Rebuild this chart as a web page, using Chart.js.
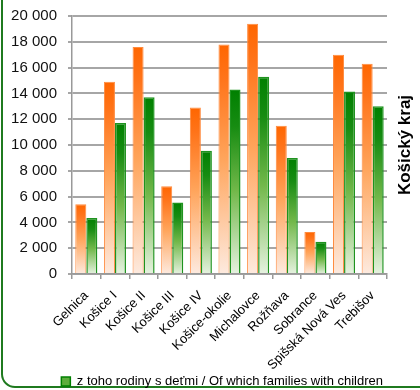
<!DOCTYPE html>
<html>
<head>
<meta charset="utf-8">
<script src="https://cdn.jsdelivr.net/npm/chart.js@4"></script>
<style>
  html, body { margin: 0; padding: 0; background: #fff; }
  #wrap { position: relative; width: 420px; height: 390px; overflow: hidden; }
  #frame {
    position: absolute; left: 1px; top: -20px; width: 520px; height: 408px;
    border: 2px solid #1f7a1f; border-radius: 14px; box-sizing: border-box;
  }
  canvas { position: absolute; left: 0; top: 0; }
</style>
</head>
<body>
<div id="wrap">
  <div id="frame"></div>
  <canvas id="chart" width="420" height="398"></canvas>
</div>
<script>
// okresy Košického kraja
const districts = ["Gelnica", "Košice I", "Košice II", "Košice III", "Košice IV", "Košice-okolie",
  "Michalovce", "Rožňava", "Sobrance", "Spišská Nová Ves", "Trebišov"];

// domácnosti spolu (oranžové stĺpce)
const households = [5400, 14900, 17600, 6800, 12900, 17800, 19400, 11500, 3250, 17000, 16300];

// z toho rodiny s deťmi (zelené stĺpce)
const families = [4350, 11700, 13700, 5550, 9550, 14300, 15300, 9000, 2500, 14150, 13000];

const yTicks = [0, 2000, 4000, 6000, 8000, 10000, 12000, 14000, 16000, 18000, 20000];

const regionTitle = "Košický kraj";
const householdsLabel = "Domácnosti spolu / Households total";
const familiesLabel = "z toho rodiny s deťmi / Of which families with children";

const FONT = '"Liberation Sans", Arial, sans-serif';

// gradient per bar: from the bar top down to the baseline
function barFill(stops, fallback) {
  return (c) => {
    const chart = c.chart;
    if (!chart.chartArea || c.type !== "data") return fallback;
    const y = chart.scales.y;
    const top = y.getPixelForValue(c.raw);
    const bottom = y.getPixelForValue(0);
    if (!isFinite(top) || !isFinite(bottom) || bottom - top < 1) return fallback;
    const g = chart.ctx.createLinearGradient(0, top, 0, bottom);
    stops.forEach(([p, col]) => g.addColorStop(p, col));
    return g;
  };
}

const orangeStops = [[0, "#ff6600"], [0.15, "#ff741a"], [0.5, "#ffa55c"], [1, "#fdeadf"]];
const greenStops  = [[0, "#008000"], [0.2, "#178c12"], [0.55, "#72b84a"], [1, "#e6f2e0"]];

// vertical region name on the right side
const sideTitle = {
  id: "sideTitle",
  afterDraw(chart) {
    const a = chart.chartArea;
    const c = chart.ctx;
    c.save();
    c.translate(chart.width - 15, (a.top + a.bottom) / 2);
    c.rotate(-Math.PI / 2);
    c.font = "bold 17px " + FONT;
    c.fillStyle = "#000";
    c.textAlign = "center";
    c.textBaseline = "middle";
    c.fillText(regionTitle, 0, 0);
    c.restore();
  }
};

const fmt = (v) => String(v).replace(/\B(?=(\d{3})+(?!\d))/g, " ");

new Chart(document.getElementById("chart"), {
  type: "bar",
  data: {
    labels: districts,
    datasets: [
      {
        label: householdsLabel,
        data: households,
        backgroundColor: barFill(orangeStops, "#ff6600"),
        borderColor: "#ff8a3d",
        borderWidth: 1,
        categoryPercentage: 0.77,
        barPercentage: 1.0
      },
      {
        label: familiesLabel,
        data: families,
        backgroundColor: barFill(greenStops, "#008000"),
        borderColor: "#1f931f",
        borderWidth: 1.5,
        categoryPercentage: 0.77,
        barPercentage: 1.0
      }
    ]
  },
  options: {
    responsive: false,
    animation: false,
    layout: { padding: { top: 16, right: 33, left: 11, bottom: 0 } },
    scales: {
      x: {
        afterFit: (s) => { s.height = 97; s.paddingLeft = 0; s.paddingRight = 0; },
        grid: { drawOnChartArea: false, drawTicks: true, tickLength: 5, color: "#999", lineWidth: 1.5 },
        border: { color: "#999", width: 1.5 },
        ticks: {
          autoSkip: false, minRotation: 45, maxRotation: 45, padding: 9,
          color: "#000", font: { family: FONT, size: 13 }
        }
      },
      y: {
        min: 0, max: 20000,
        afterFit: (s) => { s.width = 61; s.paddingTop = 0; s.paddingBottom = 0; },
        afterBuildTicks: (s) => { s.ticks = yTicks.map((v) => ({ value: v })); },
        grid: { color: "#a6a6a6", lineWidth: 2, tickLength: 4 },
        border: { color: "#999", width: 1.5 },
        ticks: {
          padding: 11, color: "#111", font: { family: FONT, size: 15 },
          callback: (v) => fmt(v)
        }
      }
    },
    plugins: {
      legend: {
        position: "bottom",
        align: "end",
        labels: {
          boxWidth: 9, boxHeight: 9, padding: 4,
          color: "#000", font: { family: FONT, size: 13 },
          generateLabels: () => [{
            text: familiesLabel, fillStyle: "#5cad3c", strokeStyle: "#008000",
            lineWidth: 1.5, datasetIndex: 1, hidden: false
          }]
        }
      },
      tooltip: { enabled: false }
    }
  },
  plugins: [sideTitle]
});
</script>
</body>
</html>
